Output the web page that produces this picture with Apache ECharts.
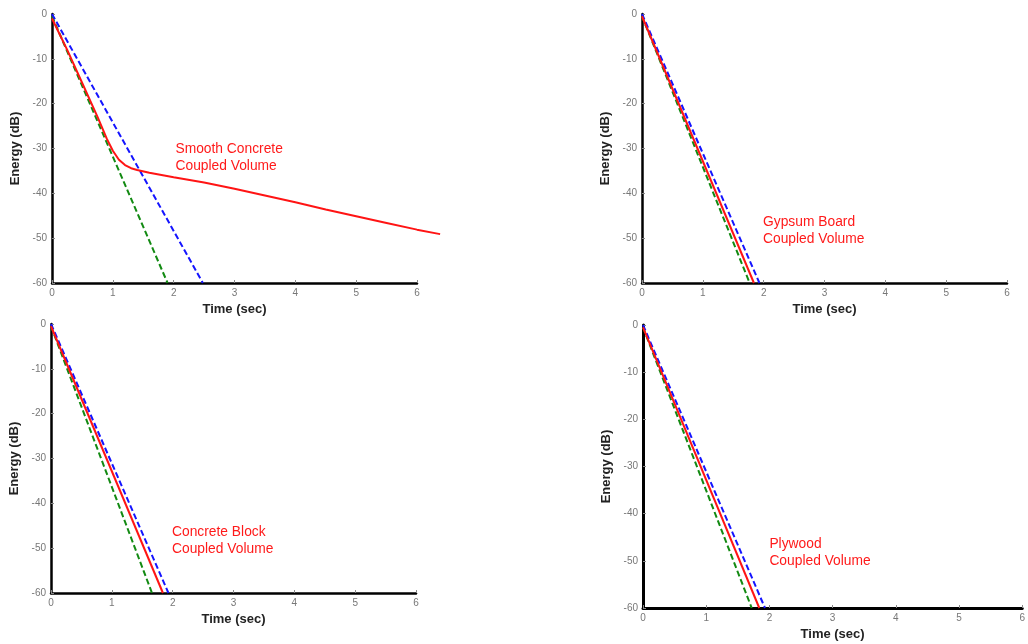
<!DOCTYPE html>
<html>
<head>
<meta charset="utf-8">
<script src="https://cdn.jsdelivr.net/npm/echarts@6/dist/echarts.min.js"></script>
<style>
html,body{margin:0;padding:0;background:#fff;}
#c{width:1028px;height:644px;}
</style>
</head>
<body>
<div id="c"></div>
<script>
// ---- data ----
const xTicks = [0, 6, 1];          // min, max, interval
const yTicks = [-60, 0, 10];
const overflowMax = 6.4;           // red curve of first panel runs past the axis end

const scRed   = [[0,-1],[0.25,-8],[0.5,-15.5],[0.75,-23],[0.9,-27.8],[1.0,-30.5],[1.1,-32.5],[1.2,-33.7],[1.3,-34.4],[1.4,-34.8],[1.6,-35.4],[2,-36.4],[2.5,-37.6],[3,-39],[3.5,-40.5],[4,-42],[4.5,-43.6],[5,-45.1],[5.5,-46.6],[6,-48.1],[6.38,-49.1]];
const scBlue  = [[0,0],[2.48,-60]];
const scGreen = [[0,-0.5],[1.9,-60]];

const gbRed   = [[0,-0.5],[1.84,-60]];
const gbBlue  = [[0,0],[1.93,-60]];
const gbGreen = [[0,-0.5],[1.77,-60]];

const cbRed   = [[0,-0.5],[1.84,-60]];
const cbBlue  = [[0,0],[1.93,-60]];
const cbGreen = [[0,-0.5],[1.66,-60]];

const pwRed   = [[0,-0.5],[1.84,-60]];
const pwBlue  = [[0,0],[1.93,-60]];
const pwGreen = [[0,-0.5],[1.72,-60]];

const panelLabels = ['Smooth Concrete\nCoupled Volume','Gypsum Board\nCoupled Volume','Concrete Block\nCoupled Volume','Plywood\nCoupled Volume'];
const labelAnchors = [[2.03,-28.3],[1.99,-44.5],[1.99,-44.5],[2.0,-44.6]];

const panels = [
  {red: scRed, blue: scBlue, green: scGreen},
  {red: gbRed, blue: gbBlue, green: gbGreen},
  {red: cbRed, blue: cbBlue, green: cbGreen},
  {red: pwRed, blue: pwBlue, green: pwGreen}
];

// ---- layout ----
const grids = [
  {left: 52,  top: 14,  width: 365, height: 269},
  {left: 642, top: 14,  width: 365, height: 269},
  {left: 51,  top: 324, width: 365, height: 269},
  {left: 643, top: 325, width: 387, height: 283}
];
const axisW = [2.5, 2.5, 2.5, 3];

const FONT = '"Liberation Sans", Arial, sans-serif';
const chart = echarts.init(document.getElementById('c'), null, {renderer: 'canvas'});

const xAxes = [], yAxes = [], series = [];
grids.forEach((g, i) => {
  xAxes.push({
    type: 'value', gridIndex: i, min: xTicks[0], max: xTicks[1], interval: xTicks[2],
    name: 'Time (sec)', nameLocation: 'middle', nameGap: 20,
    nameTextStyle: {fontFamily: FONT, fontSize: 13, fontWeight: 'bold', color: '#222'},
    axisLine: {show: true, onZero: false, lineStyle: {color: '#000', width: axisW[i]}},
    axisTick: {show: true, inside: true, length: 3, lineStyle: {color: '#888'}},
    axisLabel: {fontFamily: FONT, fontSize: 10, color: '#777', margin: 5},
    splitLine: {show: false}
  });
  yAxes.push({
    type: 'value', gridIndex: i, min: yTicks[0], max: yTicks[1], interval: yTicks[2],
    name: 'Energy (dB)', nameLocation: 'middle', nameGap: 30, nameRotate: 90,
    nameTextStyle: {fontFamily: FONT, fontSize: 13, fontWeight: 'bold', color: '#222'},
    axisLine: {show: true, onZero: false, lineStyle: {color: '#000', width: axisW[i]}},
    axisTick: {show: true, inside: true, length: 3, lineStyle: {color: '#888'}},
    axisLabel: {fontFamily: FONT, fontSize: 10, color: '#777', margin: 5},
    splitLine: {show: false}
  });
});

// hidden overflow grid sharing the first panel's scale, but reaching to overflowMax
const g0 = grids[0];
const overflowGrid = {left: g0.left, top: g0.top, height: g0.height,
  width: g0.width * (overflowMax - xTicks[0]) / (xTicks[1] - xTicks[0])};
const allGrids = grids.concat([overflowGrid]);
xAxes.push({type: 'value', gridIndex: 4, min: xTicks[0], max: overflowMax, show: false, splitLine: {show: false}});
yAxes.push({type: 'value', gridIndex: 4, min: yTicks[0], max: yTicks[1], show: false, splitLine: {show: false}});

panels.forEach((p, i) => {
  series.push({
    type: 'line', xAxisIndex: i, yAxisIndex: i, data: p.green, showSymbol: false,
    lineStyle: {color: '#128a12', width: 2, type: [6, 3]}, silent: true
  });
  series.push({
    type: 'line', xAxisIndex: i, yAxisIndex: i, data: p.blue, showSymbol: false,
    lineStyle: {color: '#1414ff', width: 2, type: [6, 3]}, silent: true
  });
  const ax = i === 0 ? 4 : i;
  series.push({
    type: 'line', xAxisIndex: ax, yAxisIndex: ax, data: p.red, showSymbol: false,
    lineStyle: {color: '#ff1414', width: 2}, silent: true
  });
});

chart.setOption({
  animation: false,
  backgroundColor: '#fff',
  grid: allGrids,
  xAxis: xAxes,
  yAxis: yAxes,
  series: series
});

const graphics = panelLabels.map((t, i) => {
  const pt = chart.convertToPixel({gridIndex: i}, labelAnchors[i]);
  return {
    type: 'text', left: pt[0], top: pt[1],
    style: {text: t, fill: '#ff1a1a', font: '13.8px ' + FONT, lineHeight: 17}
  };
});
chart.setOption({graphic: graphics});
</script>
</body>
</html>
